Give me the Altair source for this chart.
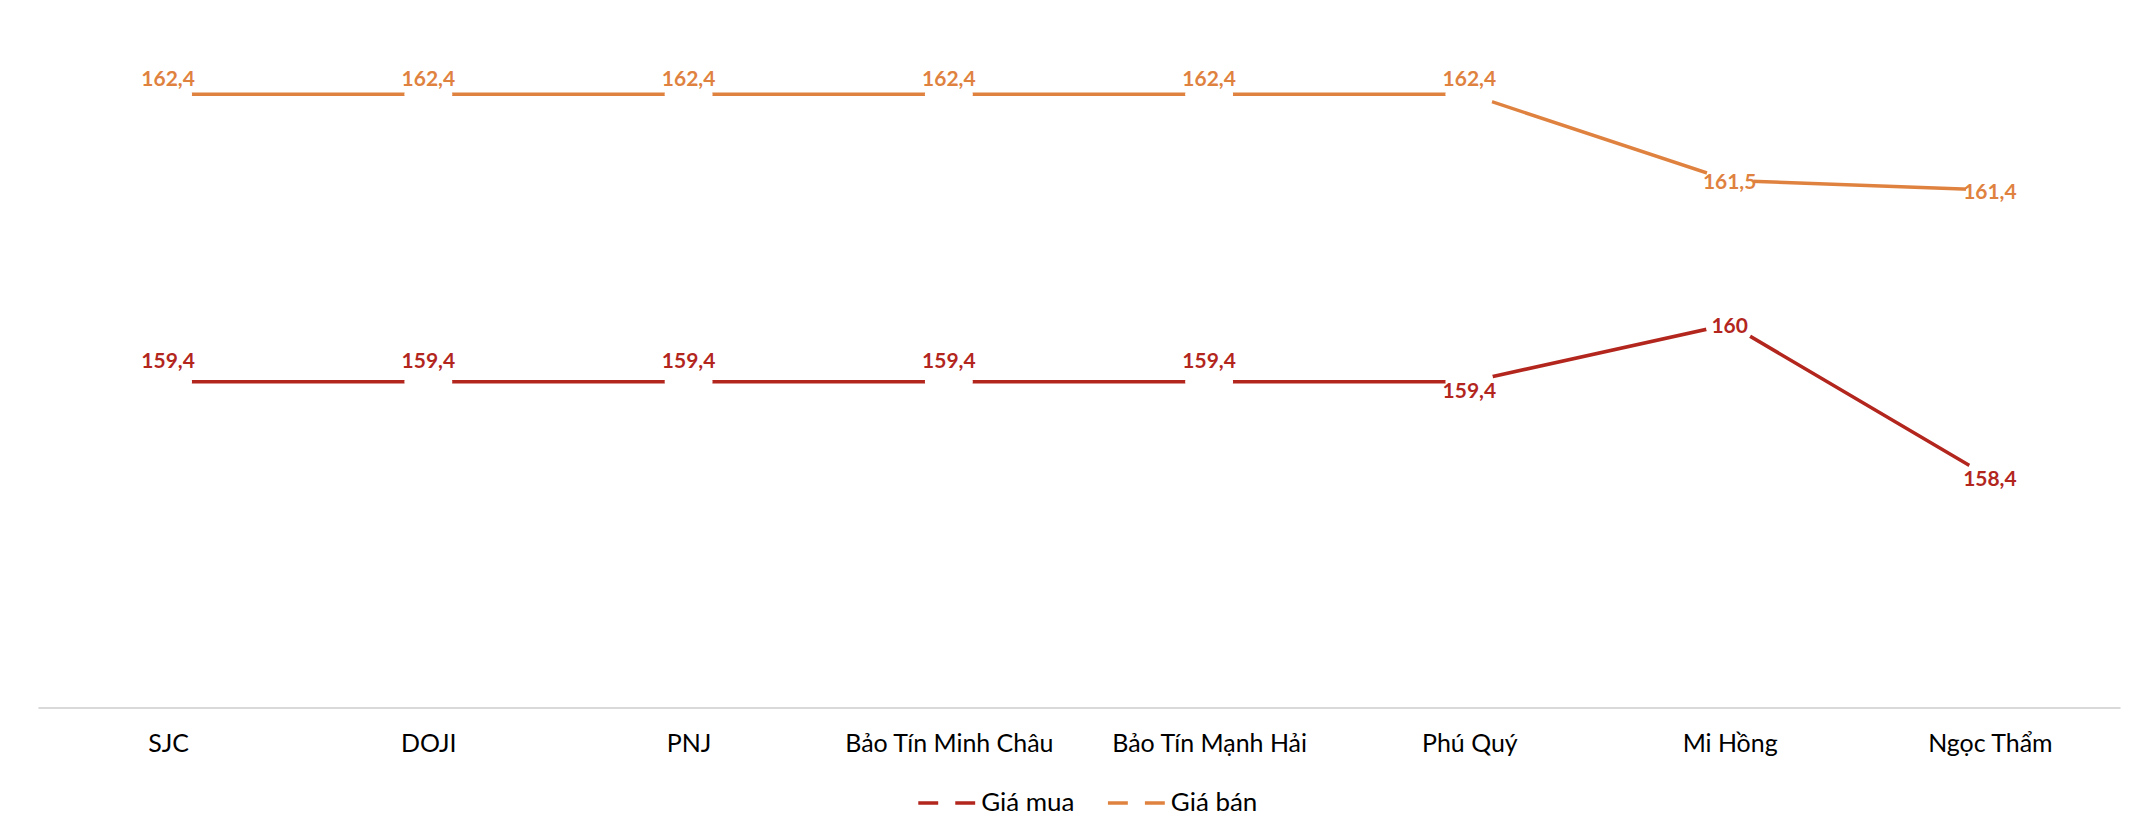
import altair as alt
import pandas as pd

# ---- data ----
categories = ["SJC", "DOJI", "PNJ", "Bảo Tín Minh Châu", "Bảo Tín Mạnh Hải",
              "Phú Quý", "Mi Hồng", "Ngọc Thẩm"]
gia_mua = [159.4, 159.4, 159.4, 159.4, 159.4, 159.4, 160.0, 158.4]
gia_ban = [162.4, 162.4, 162.4, 162.4, 162.4, 162.4, 161.5, 161.4]
series_names = ["Giá mua", "Giá bán"]

# ---- styling ----
colors = ["#B3261E", "#E0823F"]
# where each data label sits relative to its point (default: above)
label_place = {
    ("Giá mua", "Phú Quý"): "below",
    ("Giá mua", "Mi Hồng"): "center",
    ("Giá mua", "Ngọc Thẩm"): "center",
    ("Giá bán", "Mi Hồng"): "center",
    ("Giá bán", "Ngọc Thẩm"): "center",
}
place_dy = {"above_mua": -20, "above_ban": -14, "center": 3, "below": 10}

rows = []
for name, vals in zip(series_names, [gia_mua, gia_ban]):
    key = "above_mua" if name == "Giá mua" else "above_ban"
    for c, v in zip(categories, vals):
        rows.append({
            "cat": c,
            "series": name,
            "value": v,
            "label": f"{v:g}".replace(".", ","),
            "place": label_place.get((name, c), key),
        })
df = pd.DataFrame(rows)

x_enc = alt.X(
    "cat:N", sort=categories, title=None,
    scale=alt.Scale(type="point", padding=0.5),
    axis=alt.Axis(labelAngle=0, ticks=False, grid=False, domainColor="#D9D9D9",
                  domainWidth=2, labelFont="Lato", labelFontSize=25, labelLimit=0,
                  labelColor="#000000", labelPadding=36, labelBaseline="middle"),
)
y_enc = alt.Y("value:Q", title=None, scale=alt.Scale(domain=[156, 163]), axis=None)
color_scale = alt.Scale(domain=series_names, range=colors)

base = alt.Chart(df)

lines = base.mark_line(strokeWidth=3.5).encode(
    x=x_enc, y=y_enc,
    color=alt.Color("series:N", scale=color_scale, sort=series_names, title=None,
                    legend=alt.Legend(
                        orient="none", legendX=880, legendY=737,
                        direction="horizontal",
                        symbolType="M-1,0H-0.3M0.3,0H1",
                        symbolSize=3249, symbolStrokeWidth=3.5,
                        labelFont="Lato", labelFontSize=26, labelColor="#000000",
                        labelOffset=4, columnPadding=26)),
    detail="series:N",
)

holes = base.mark_point(shape="circle", filled=True, size=2304, opacity=1,
                        color="white").encode(x=x_enc, y=y_enc)

texts = []
for p, dy in place_dy.items():
    texts.append(
        base.transform_filter(alt.datum.place == p)
        .mark_text(font="Lato", fontWeight="bold", fontSize=21, dy=dy,
                   baseline="middle", align="center")
        .encode(x=x_enc, y=y_enc, text="label:N",
                color=alt.Color("series:N", scale=color_scale, legend=None))
    )

chart = alt.layer(lines, holes, *texts).properties(
    width=2086, height=672,
    autosize=alt.AutoSizeParams(type="none"),
    padding={"left": 30, "top": 28, "right": 10, "bottom": 122},
).configure(background="white").configure_view(stroke=None)

chart.save("out.html", embed_options={"renderer": "svg", "actions": False})
